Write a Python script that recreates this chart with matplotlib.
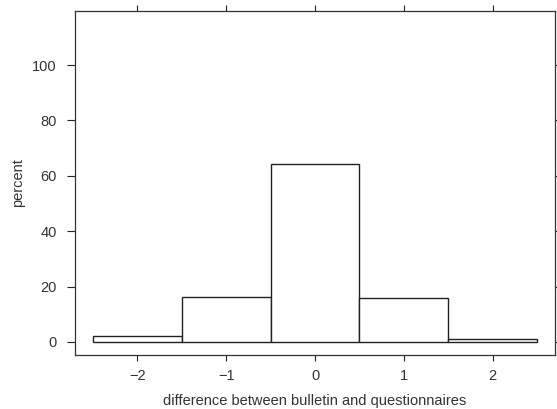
import matplotlib
matplotlib.use("Agg")
import matplotlib.pyplot as plt

# histogram of differences (percent)
diffs = [-2, -1, 0, 1, 2]
percent = [2.1, 16.1, 64.3, 16.0, 1.0]
xticks = [-2, -1, 0, 1, 2]
yticks = [0, 20, 40, 60, 80, 100]

plt.rcParams['font.family'] = ['Liberation Sans', 'DejaVu Sans']

fig = plt.figure(figsize=(5.57, 4.09), dpi=100)
ax = fig.add_axes([75 / 557, 1 - 355 / 409, 480 / 557, 344 / 409])

ax.bar(diffs, percent, width=1.0, color='white', edgecolor='#222222', linewidth=1.0)

ax.set_xlim(-2.7, 2.7)
ax.set_ylim(-4.7, 119.5)
ax.set_xticks(xticks)
ax.set_xticklabels(['\u22122', '\u22121', '0', '1', '2'])
ax.set_yticks(yticks)

ax.tick_params(direction='out', width=0.8, colors='#222222',
               labelsize=10.5, labelcolor='#333333', top=True, right=True,
               labeltop=False, labelright=False)
ax.tick_params(axis='y', length=6, pad=7)
ax.tick_params(axis='x', length=4, pad=6)
for s in ax.spines.values():
    s.set_color('#333333')
    s.set_linewidth(0.9)

ax.set_xlabel('difference between bulletin and questionnaires', fontsize=10.5,
              color='#333333', labelpad=8)
ax.set_ylabel('percent', fontsize=10.5, color='#333333', labelpad=5)

fig.savefig('out.png', dpi=100)
